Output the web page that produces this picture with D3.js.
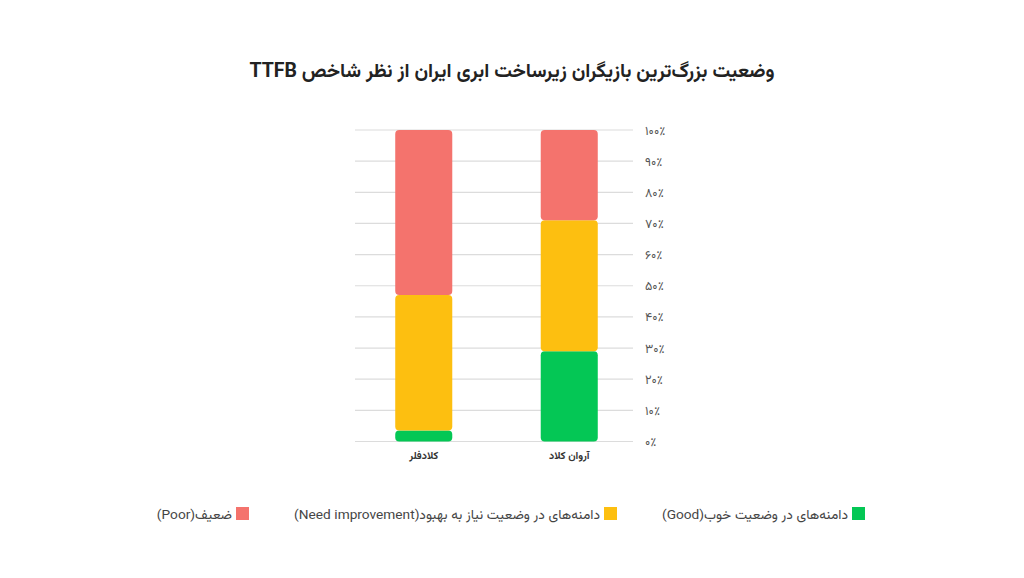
<!DOCTYPE html>
<html>
<head>
<meta charset="utf-8">
<script src="https://cdnjs.cloudflare.com/ajax/libs/d3/7.8.5/d3.min.js"></script>
<style>
  body { margin: 0; background: #fff; }
  svg { display: block; font-family: "Vazirmatn", "DejaVu Sans", sans-serif; }
</style>
</head>
<body>
<script>
var width = 1024;
var height = 578;

// data (percent of domains)
var categories = ['آروان کلاد', 'کلادفلر'];
var goodValues = [29, 3.5];
var needValues = [42, 43.5];
var poorValues = [29, 53];
var yTicks = [0, 10, 20, 30, 40, 50, 60, 70, 80, 90, 100];
var seriesKeys = ['good', 'need', 'poor'];
var seriesLabels = ['دامنه‌های در وضعیت خوب(Good)', 'دامنه‌های در وضعیت نیاز به بهبود(Need improvement)', 'ضعیف(Poor)'];
var seriesColors = ['#04c755', '#fdbf10', '#f4736d'];

var toPersian = function(n) {
  return String(n).replace(/\d/g, d => '۰۱۲۳۴۵۶۷۸۹'[d]);
};

var rows = categories.map((c, i) => ({
  name: c, good: goodValues[i], need: needValues[i], poor: poorValues[i]
}));

var svg = d3.select('body').append('svg')
  .attr('width', width)
  .attr('height', height);

var x = d3.scaleBand()
  .domain(categories)
  .range([642, 351])
  .paddingInner(0.608)
  .paddingOuter(0.304);

var y = d3.scaleLinear()
  .domain([0, 100])
  .range([441.5, 130]);

svg.append('text')
   .attr('x', 512)
   .attr('y', 77)
   .attr('text-anchor', 'middle')
   .attr('direction', 'rtl')
   .style('font-size', '19.5px')
   .style('font-weight', 'bold')
   .style('fill', '#222')
   .text('وضعیت بزرگ‌ترین بازیگران زیرساخت ابری ایران از نظر شاخص TTFB');

// grid lines
svg.append('g')
   .selectAll('line')
   .data(yTicks)
   .enter().append('line')
   .attr('x1', 355)
   .attr('x2', 633)
   .attr('y1', d => y(d))
   .attr('y2', d => y(d))
   .style('stroke', '#dcdcdc')
   .style('stroke-width', 1.2);

// y axis labels on the right
var yAxis = d3.axisRight(y)
  .tickValues(yTicks)
  .tickSize(0)
  .tickPadding(0)
  .tickFormat(d => toPersian(d) + '٪');

var yAxisG = svg.append('g')
  .attr('transform', 'translate(645,0)')
  .call(yAxis);
yAxisG.select('.domain').remove();
yAxisG.selectAll('text')
  .style('font-size', '12.5px')
  .style('fill', '#555')
  .style('font-family', '"Vazirmatn", "DejaVu Sans", sans-serif');

// stacked bars
var stack = d3.stack().keys(seriesKeys);
var stacked = stack(rows);

var layers = svg.append('g')
  .selectAll('g')
  .data(stacked)
  .enter().append('g')
  .style('fill', (d, i) => seriesColors[i]);

layers.selectAll('rect')
  .data(d => d)
  .enter().append('rect')
  .attr('x', d => x(d.data.name))
  .attr('width', x.bandwidth())
  .attr('y', d => y(d[1]))
  .attr('height', d => y(d[0]) - y(d[1]))
  .attr('rx', 4)
  .attr('ry', 4);

// category labels
var xAxis = d3.axisBottom(x).tickSize(0).tickPadding(0);
var xAxisG = svg.append('g')
  .attr('transform', 'translate(0,452)')
  .call(xAxis);
xAxisG.select('.domain').remove();
xAxisG.selectAll('text')
  .style('font-size', '10.5px')
  .style('font-weight', 'bold')
  .style('fill', '#333')
  .style('font-family', '"Vazirmatn", "DejaVu Sans", sans-serif');

// legend
var legendX = [852, 604, 236];
var legend = svg.append('g')
  .selectAll('g')
  .data(seriesKeys)
  .enter().append('g')
  .attr('transform', (d, i) => 'translate(' + legendX[i] + ',507)');

legend.append('rect')
  .attr('width', 13)
  .attr('height', 13)
  .style('fill', (d, i) => seriesColors[i]);

legend.append('text')
  .attr('x', -4)
  .attr('y', 11.5)
  .attr('direction', 'rtl')
  .attr('text-anchor', 'start')
  .style('font-size', '13.7px')
  .style('fill', '#444')
  .text((d, i) => seriesLabels[i]);
</script>
</body>
</html>
